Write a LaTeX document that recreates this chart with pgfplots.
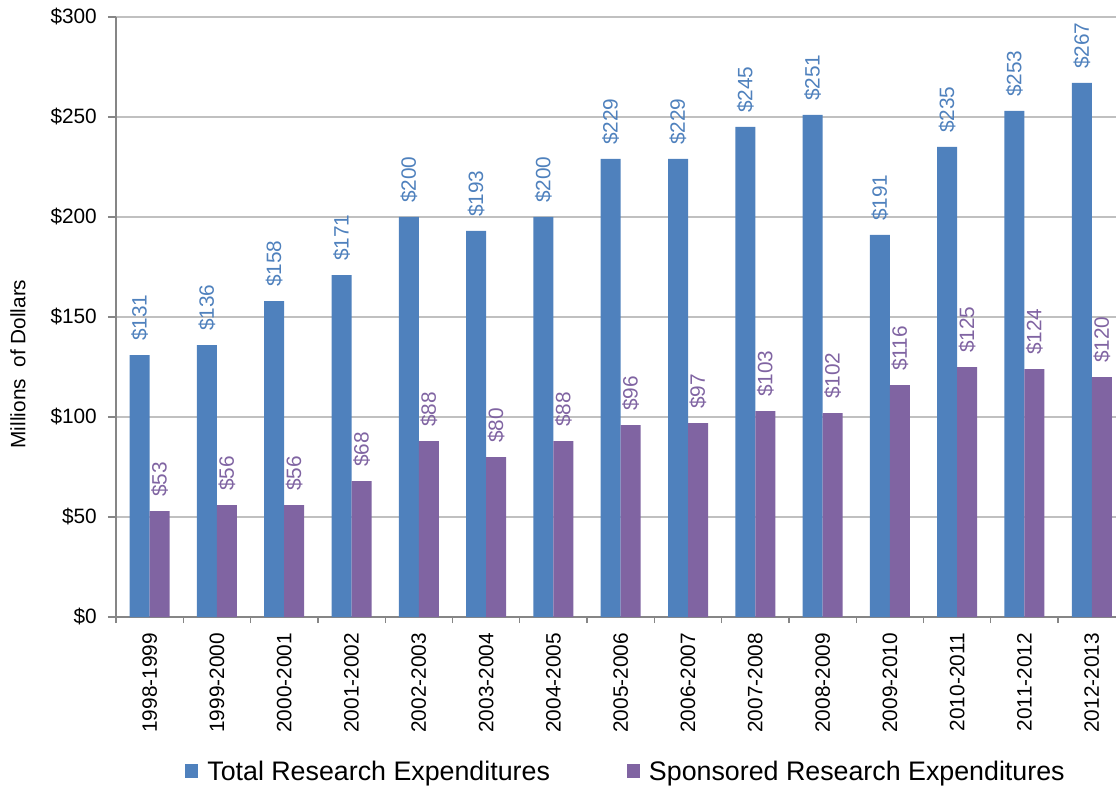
\documentclass[border=0pt]{standalone}
\usepackage{pgfplots}
\pgfplotsset{compat=1.18}
\usepackage{fontspec}
\setmainfont{Liberation Sans}
\definecolor{cblue}{HTML}{4F81BD}
\definecolor{cpurp}{HTML}{8064A2}
\definecolor{gridc}{HTML}{C0C0C0}
\definecolor{axc}{HTML}{868686}
\newcommand\lab{\fontsize{20.8pt}{24pt}\selectfont}
\newcommand\leg{\fontsize{26.8pt}{30pt}\selectfont}
\begin{document}
\begin{tikzpicture}
\begin{axis}[
  name=ax, at={(0,0)}, anchor=south west,
  scale only axis, width=1000pt, height=600pt,
  ybar=0pt, bar width=20pt,
  xmin=-0.5, xmax=14.36, ymin=0, ymax=300,
  clip=false,
  axis x line=bottom, axis y line=left,
  axis line style={-, draw=axc, line width=1.3pt},
  xtick={0,...,14},
  xticklabels={1998-1999,1999-2000,2000-2001,2001-2002,2002-2003,2003-2004,2004-2005,2005-2006,2006-2007,2007-2008,2008-2009,2009-2010,2010-2011,2011-2012,2012-2013},
  minor xtick={-0.5,0.5,...,13.5},
  major x tick style={draw=none},
  minor x tick style={draw=axc, line width=1.3pt},
  major y tick style={draw=axc, line width=1.3pt},
  tick align=outside,
  major tick length=8pt, minor tick length=6pt,
  ytick={0,50,...,300},
  yticklabels={\$0,\$50,\$100,\$150,\$200,\$250,\$300},
  ymajorgrids, grid style={draw=gridc, line width=1.3pt},
  xticklabel style={rotate=90, anchor=east, inner sep=0pt, font=\lab},
  yticklabel style={anchor=east, inner sep=0pt, font=\lab},
  xticklabel shift=8pt, yticklabel shift=11pt,
  ylabel={Millions\ \ of Dollars},
  ylabel style={at={(axis description cs:-0.098,0.4217)}, anchor=center, font=\lab},
  /pgf/number format/assume math mode=true,
  nodes near coords={\$\pgfmathprintnumber{\pgfplotspointmeta}},
  every node near coord/.append style={rotate=90, anchor=west, inner xsep=14pt, inner ysep=0pt, font=\lab},
  legend style={at={(axis description cs:0.509,-0.257)}, anchor=center, draw=none, fill=none,
    legend columns=2, font=\leg, nodes={inner xsep=0pt},
    /tikz/every odd column/.append style={column sep=9pt},
    /tikz/every even column/.append style={column sep=77pt}},
  legend image code/.code={\fill[#1] (0pt,-7pt) rectangle (13pt,7pt);},
]
\addplot[fill=cblue, draw=none, every node near coord/.append style={text=cblue}] coordinates {
(0,131) (1,136) (2,158) (3,171) (4,200) (5,193) (6,200) (7,229) (8,229) (9,245) (10,251) (11,191) (12,235) (13,253) (14,267)};
\addplot[fill=cpurp, draw=none, every node near coord/.append style={text=cpurp}] coordinates {
(0,53) (1,56) (2,56) (3,68) (4,88) (5,80) (6,88) (7,96) (8,97) (9,103) (10,102) (11,116) (12,125) (13,124) (14,120)};
\legend{Total Research Expenditures, Sponsored Research Expenditures}
\end{axis}
\pgfresetboundingbox
\path[use as bounding box] ([shift={(-116pt,-170pt)}]ax.south west) rectangle ([shift={(0pt,17pt)}]ax.north east);
\end{tikzpicture}
\end{document}
